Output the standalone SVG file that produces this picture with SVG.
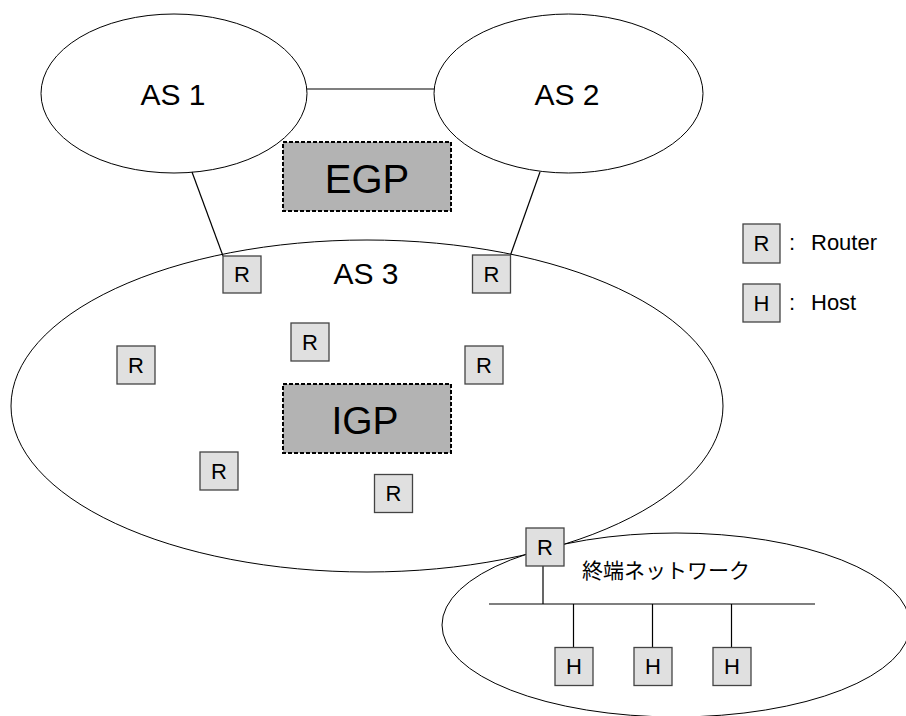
<svg xmlns="http://www.w3.org/2000/svg" width="906" height="716" viewBox="0 0 906 716">
<style>
.as{fill:none;stroke:#000;stroke-width:1}
.ln{stroke:#000;stroke-width:1.2;fill:none}
.box{fill:#e0e0e0;stroke:#444;stroke-width:1.3}
.proto{fill:#b3b3b3;stroke:#000;stroke-width:2;stroke-dasharray:4,2}
text{font-family:"Liberation Sans",Arial,sans-serif;fill:#000;text-anchor:middle}
.bt{font-size:22px}
.lt{font-size:30px}
.lg{font-size:22px;text-anchor:start}
</style>
<rect width="906" height="716" fill="#fff"/>
<g id="connectors">
<line class="ln" x1="307" y1="89" x2="434" y2="89"/>
<line class="ln" x1="192" y1="172" x2="223" y2="256"/>
<line class="ln" x1="540" y1="172" x2="510.5" y2="255"/>
<line class="ln" x1="543" y1="566" x2="543" y2="604"/>
<line class="ln" x1="489" y1="604" x2="815" y2="604"/>
<line class="ln" x1="573.5" y1="604" x2="573.5" y2="647"/>
<line class="ln" x1="652.5" y1="604" x2="652.5" y2="647"/>
<line class="ln" x1="731.5" y1="604" x2="731.5" y2="647"/>
</g>
<g id="as1"><ellipse class="as" cx="174" cy="93.5" rx="133" ry="79.5"/><text class="lt" x="173" y="105">AS 1</text></g>
<g id="as2"><ellipse class="as" cx="568.5" cy="93.5" rx="134.5" ry="79.5"/><text class="lt" x="567" y="105">AS 2</text></g>
<g id="as3"><ellipse class="as" cx="367" cy="406" rx="356" ry="166"/><text class="lt" x="366" y="284">AS 3</text></g>
<g id="stub"><ellipse class="as" cx="676" cy="625" rx="234" ry="92"/><text x="666" y="578" style="font-size:21px;font-family:'Noto Sans CJK JP','Liberation Sans',sans-serif">終端ネットワーク</text></g>
<g id="egp"><rect class="proto" x="283" y="142" width="168" height="69"/><text x="367" y="193" style="font-size:40px">EGP</text></g>
<g id="igp"><rect class="proto" x="283" y="384" width="168" height="69"/><text x="365" y="434" style="font-size:39px">IGP</text></g>
<g id="r1"><rect class="box" x="223" y="256" width="38" height="37"/><text class="bt" x="242" y="282">R</text></g>
<g id="r2"><rect class="box" x="472.5" y="255" width="38" height="38"/><text class="bt" x="491.5" y="282">R</text></g>
<g id="r3"><rect class="box" x="117" y="346" width="38" height="38"/><text class="bt" x="136" y="373">R</text></g>
<g id="r4"><rect class="box" x="291" y="323" width="38" height="38"/><text class="bt" x="310" y="350">R</text></g>
<g id="r5"><rect class="box" x="465" y="346" width="38" height="38"/><text class="bt" x="484" y="373">R</text></g>
<g id="r6"><rect class="box" x="200" y="452" width="38" height="38"/><text class="bt" x="219" y="479">R</text></g>
<g id="r7"><rect class="box" x="374.5" y="474.5" width="38" height="38"/><text class="bt" x="393.5" y="501">R</text></g>
<g id="r8"><rect class="box" x="526" y="528" width="38" height="38"/><text class="bt" x="545" y="555">R</text></g>
<g id="h1"><rect class="box" x="555" y="647.5" width="38" height="38"/><text class="bt" x="574" y="674">H</text></g>
<g id="h2"><rect class="box" x="634" y="647.5" width="38" height="38"/><text class="bt" x="653" y="674">H</text></g>
<g id="h3"><rect class="box" x="713" y="647.5" width="38" height="38"/><text class="bt" x="732" y="674">H</text></g>
<g id="legend-r"><rect class="box" x="743" y="224" width="37" height="39"/><text class="bt" x="761.5" y="251">R</text><text class="lg" x="789" y="250">:</text><text class="lg" x="811" y="250">Router</text></g>
<g id="legend-h"><rect class="box" x="743" y="284" width="37" height="38"/><text class="bt" x="761.5" y="311">H</text><text class="lg" x="789" y="310">:</text><text class="lg" x="811" y="310">Host</text></g>
</svg>
